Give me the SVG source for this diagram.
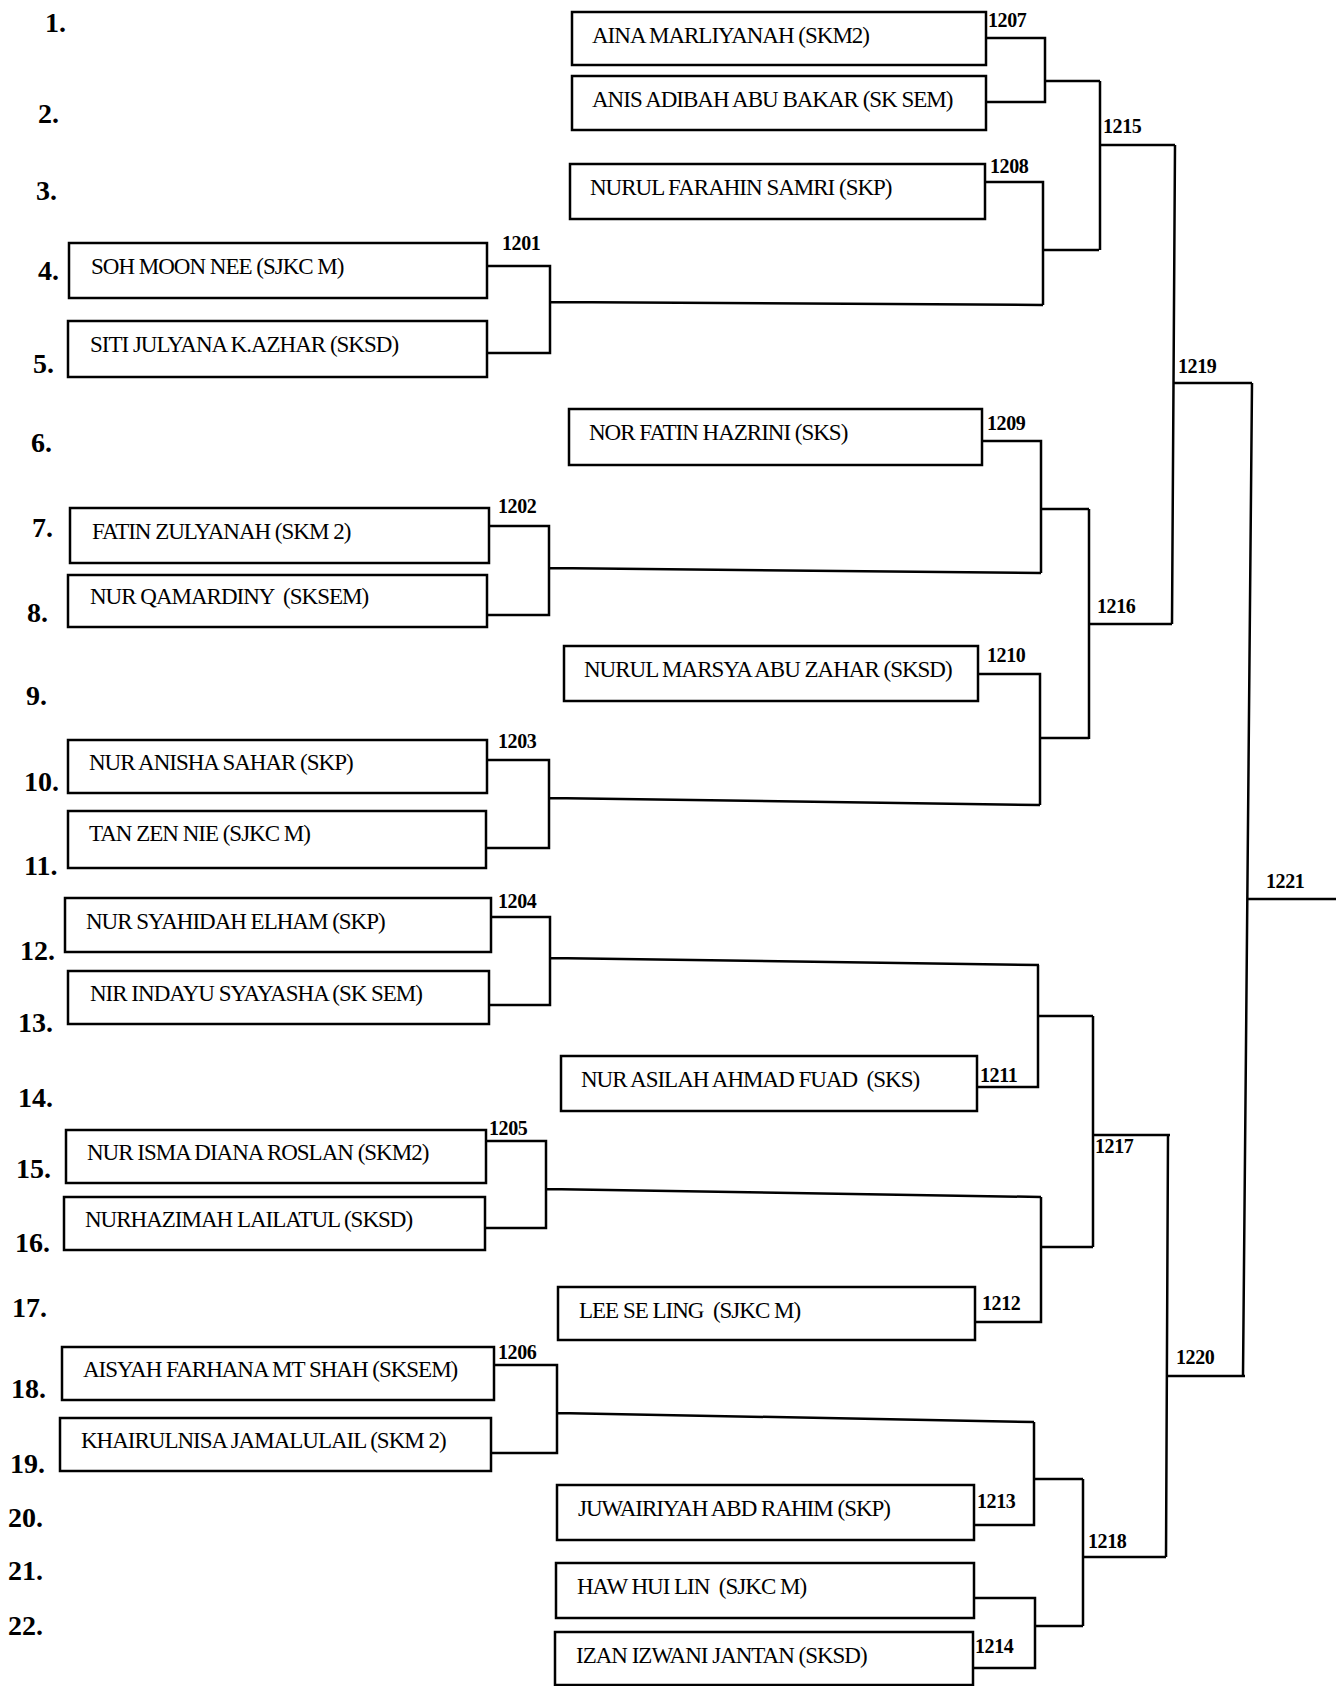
<svg xmlns="http://www.w3.org/2000/svg" width="1340" height="1686" viewBox="0 0 1340 1686">
<style>
.box{fill:#fff;stroke:#000;stroke-width:2.5}
.name{font-family:"Liberation Serif","Times New Roman",serif;font-size:23px;letter-spacing:-1px;fill:#000}
.num{font-family:"Liberation Serif","Times New Roman",serif;font-size:28px;font-weight:bold;fill:#000}
.lbl{font-family:"Liberation Serif","Times New Roman",serif;font-size:20px;font-weight:bold;letter-spacing:-0.4px;fill:#000}
.conn path{fill:none;stroke:#000;stroke-width:2.5}
</style>
<rect width="1340" height="1686" fill="#fff"/>

<g id="seeds">
<text class="num" x="45" y="32">1.</text>
<text class="num" x="38" y="123">2.</text>
<text class="num" x="36" y="200">3.</text>
<text class="num" x="38" y="280">4.</text>
<text class="num" x="33" y="373">5.</text>
<text class="num" x="31" y="452">6.</text>
<text class="num" x="32" y="537">7.</text>
<text class="num" x="27" y="622">8.</text>
<text class="num" x="26" y="705">9.</text>
<text class="num" x="24" y="791">10.</text>
<text class="num" x="24" y="875">11.</text>
<text class="num" x="20" y="960">12.</text>
<text class="num" x="18" y="1032">13.</text>
<text class="num" x="18" y="1107">14.</text>
<text class="num" x="16" y="1178">15.</text>
<text class="num" x="15" y="1252">16.</text>
<text class="num" x="12" y="1317">17.</text>
<text class="num" x="11" y="1398">18.</text>
<text class="num" x="10" y="1473">19.</text>
<text class="num" x="8" y="1527">20.</text>
<text class="num" x="8" y="1580">21.</text>
<text class="num" x="8" y="1635">22.</text>
</g>

<g class="conn" id="connectors">
<path d="M487,266 H550 V353 H487 M550,302 L1043,305"/>
<path d="M985,182 H1043 V305 M1043,250 H1099"/>
<path d="M986,38 H1045 V102 H986 M1045,81 H1100"/>
<path d="M1100,81 V250 M1100,145 H1175"/>
<path d="M1175,145 L1172,624 M1174,383 H1252"/>
<path d="M489,526 H549 V615 H487 M549,568 L1041,573"/>
<path d="M982,441 H1041 V573 M1041,509 H1089"/>
<path d="M1089,509 V739 M1089,624 H1172"/>
<path d="M978,674 H1040 V805 M1040,738 H1089"/>
<path d="M487,760 H549 V848 H486 M549,798 L1040,805"/>
<path d="M491,917 H550 V1005 H489 M550,958 L1039,965"/>
<path d="M977,1087 H1038 V965 M1038,1016 H1093"/>
<path d="M1093,1016 V1247 M1093,1135 H1170"/>
<path d="M486,1141 H546 V1228 H485 M546,1189 L1041,1197"/>
<path d="M975,1322 H1041 V1197 M1041,1247 H1093"/>
<path d="M1168,1135 L1166,1557 M1166,1376 H1245"/>
<path d="M494,1365 H557 V1453 H491 M557,1413 L1034,1422"/>
<path d="M974,1525 H1034 V1422 M1034,1479 H1083"/>
<path d="M1083,1479 V1626 M1083,1557 H1166"/>
<path d="M974,1598 H1035 V1668 H973 M1035,1626 H1083"/>
<path d="M1252,383 L1243,1376 M1247,899 H1336"/>
</g>

<g id="match-labels">
<text class="lbl" x="502" y="250">1201</text>
<text class="lbl" x="498" y="513">1202</text>
<text class="lbl" x="498" y="748">1203</text>
<text class="lbl" x="498" y="908">1204</text>
<text class="lbl" x="489" y="1135">1205</text>
<text class="lbl" x="498" y="1359">1206</text>
<text class="lbl" x="988" y="27">1207</text>
<text class="lbl" x="990" y="173">1208</text>
<text class="lbl" x="987" y="430">1209</text>
<text class="lbl" x="987" y="662">1210</text>
<text class="lbl" x="980" y="1082">1211</text>
<text class="lbl" x="982" y="1310">1212</text>
<text class="lbl" x="977" y="1508">1213</text>
<text class="lbl" x="975" y="1653">1214</text>
<text class="lbl" x="1103" y="133">1215</text>
<text class="lbl" x="1097" y="613">1216</text>
<text class="lbl" x="1095" y="1153">1217</text>
<text class="lbl" x="1088" y="1548">1218</text>
<text class="lbl" x="1178" y="373">1219</text>
<text class="lbl" x="1176" y="1364">1220</text>
<text class="lbl" x="1266" y="888">1221</text>
</g>

<g id="p1"><rect class="box" x="572" y="12" width="414" height="53"/><text class="name" x="592" y="43">AINA MARLIYANAH (SKM2)</text></g>
<g id="p2"><rect class="box" x="572" y="76" width="414" height="54"/><text class="name" x="592" y="107">ANIS ADIBAH ABU BAKAR (SK SEM)</text></g>
<g id="p3"><rect class="box" x="570" y="164" width="415" height="55"/><text class="name" x="590" y="195">NURUL FARAHIN SAMRI (SKP)</text></g>
<g id="p4"><rect class="box" x="69" y="243" width="418" height="55"/><text class="name" x="91" y="274">SOH MOON NEE (SJKC M)</text></g>
<g id="p5"><rect class="box" x="68" y="321" width="419" height="56"/><text class="name" x="90" y="352">SITI JULYANA K.AZHAR (SKSD)</text></g>
<g id="p6"><rect class="box" x="569" y="409" width="413" height="56"/><text class="name" x="589" y="440">NOR FATIN HAZRINI (SKS)</text></g>
<g id="p7"><rect class="box" x="70" y="508" width="419" height="55"/><text class="name" x="92" y="539">FATIN ZULYANAH (SKM 2)</text></g>
<g id="p8"><rect class="box" x="68" y="575" width="419" height="52"/><text class="name" x="90" y="604" xml:space="preserve">NUR QAMARDINY  (SKSEM)</text></g>
<g id="p9"><rect class="box" x="564" y="646" width="414" height="55"/><text class="name" x="584" y="677">NURUL MARSYA ABU ZAHAR (SKSD)</text></g>
<g id="p10"><rect class="box" x="68" y="740" width="419" height="53"/><text class="name" x="89" y="770">NUR ANISHA SAHAR (SKP)</text></g>
<g id="p11"><rect class="box" x="68" y="811" width="418" height="57"/><text class="name" x="89" y="841">TAN ZEN NIE (SJKC M)</text></g>
<g id="p12"><rect class="box" x="65" y="898" width="426" height="54"/><text class="name" x="86" y="929">NUR SYAHIDAH ELHAM (SKP)</text></g>
<g id="p13"><rect class="box" x="68" y="971" width="421" height="53"/><text class="name" x="90" y="1001">NIR INDAYU SYAYASHA (SK SEM)</text></g>
<g id="p14"><rect class="box" x="561" y="1056" width="416" height="55"/><text class="name" x="581" y="1087" xml:space="preserve">NUR ASILAH AHMAD FUAD  (SKS)</text></g>
<g id="p15"><rect class="box" x="66" y="1130" width="420" height="53"/><text class="name" x="87" y="1160">NUR ISMA DIANA ROSLAN (SKM2)</text></g>
<g id="p16"><rect class="box" x="64" y="1197" width="421" height="53"/><text class="name" x="85" y="1227">NURHAZIMAH LAILATUL (SKSD)</text></g>
<g id="p17"><rect class="box" x="558" y="1287" width="417" height="53"/><text class="name" x="579" y="1318" xml:space="preserve">LEE SE LING  (SJKC M)</text></g>
<g id="p18"><rect class="box" x="62" y="1347" width="432" height="53"/><text class="name" x="83" y="1377">AISYAH FARHANA MT SHAH (SKSEM)</text></g>
<g id="p19"><rect class="box" x="60" y="1418" width="431" height="53"/><text class="name" x="81" y="1448">KHAIRULNISA JAMALULAIL (SKM 2)</text></g>
<g id="p20"><rect class="box" x="557" y="1485" width="417" height="55"/><text class="name" x="578" y="1516">JUWAIRIYAH ABD RAHIM (SKP)</text></g>
<g id="p21"><rect class="box" x="556" y="1563" width="418" height="55"/><text class="name" x="577" y="1594" xml:space="preserve">HAW HUI LIN  (SJKC M)</text></g>
<g id="p22"><rect class="box" x="555" y="1632" width="418" height="53"/><text class="name" x="576" y="1663">IZAN IZWANI JANTAN (SKSD)</text></g>
</svg>
